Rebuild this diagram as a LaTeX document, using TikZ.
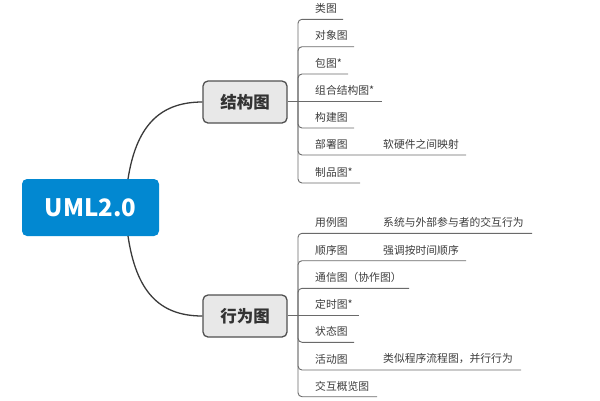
\documentclass[tikz,border=0pt]{standalone}
\usepackage{fontspec}
\setmainfont{Noto Sans CJK SC}
\definecolor{rootblue}{HTML}{0288D1}
\definecolor{boxfill}{HTML}{E8E8E8}
\definecolor{boxline}{HTML}{505050}
\definecolor{curveline}{HTML}{3A3A3A}
\definecolor{leafline}{HTML}{6A6A6A}
\definecolor{leaftext}{HTML}{3C3C3C}
\begin{document}
\begin{tikzpicture}[x=1pt,y=-1pt,
  rootbox/.style={draw=none,fill=rootblue,rounded corners=5pt,minimum width=137pt,minimum height=57pt,text=white,font=\fontsize{24}{28}\selectfont\bfseries,inner sep=0pt},
  branchbox/.style={draw=boxline,line width=1.3pt,fill=boxfill,rounded corners=5pt,minimum width=84pt,minimum height=42pt,text=black!80,font=\fontsize{16.5}{20}\selectfont\bfseries,inner sep=0pt},
  leaf/.style={anchor=west,inner sep=0pt,text=leaftext,font=\fontsize{10.8}{13}\selectfont},
  mainlink/.style={draw=curveline,line width=1.3pt},
  leaflink/.style={draw=leafline,line width=0.9pt,rounded corners=4pt}
]
\useasboundingbox (0,0) rectangle (600,400);

\node[rootbox] (root) at (90.5,207.5) {UML2.0};
\node[branchbox] (jg) at (245,102) {结构图};
\node[branchbox] (xw) at (245,316) {行为图};

\coordinate (rt) at (128,179);
\coordinate (rb) at (128,236);
\draw[mainlink] (rt) .. controls (136,128) and (158,102) .. (jg.west);
\draw[mainlink] (rb) .. controls (136,290) and (158,316) .. (xw.west);

% structure diagram branch
\coordinate (ja) at (298,101);
\draw[leaflink] (jg.east |- ja) -- (ja);
\node[leaf] (s1) at (315,8) {类图};
\node[leaf] (s2) at (315,35.5) {对象图};
\node[leaf] (s3) at (315,63) {包图*};
\node[leaf] (s4) at (315,90) {组合结构图*};
\node[leaf] (s5) at (315,117) {构建图};
\node[leaf] (s6) at (315,144.5) {部署图};
\node[leaf] (s6n) at (383,144.5) {软硬件之间映射};
\node[leaf] (s7) at (315,172) {制品图*};
\coordinate (s1e) at (343,19.3);
\coordinate (s2e) at (354,46.7);
\coordinate (s3e) at (348,74);
\coordinate (s4e) at (382,101);
\coordinate (s5e) at (354,128);
\coordinate (s6e) at (466,155);
\coordinate (s7e) at (360,183);
\foreach \e in {s1e,s2e,s3e,s5e,s6e,s7e}
  \draw[leaflink] (ja) |- (\e);
\draw[leaflink] (ja) -- (s4e);

% behaviour diagram branch
\coordinate (jb) at (298,315);
\draw[leaflink] (xw.east |- jb) -- (jb);
\node[leaf] (b1) at (315,222) {用例图};
\node[leaf] (b1n) at (383,222) {系统与外部参与者的交互行为};
\node[leaf] (b2) at (315,250) {顺序图};
\node[leaf] (b2n) at (383,250) {强调按时间顺序};
\node[leaf] (b3) at (315,277) {通信图（协作图）};
\node[leaf] (b4) at (315,304) {定时图*};
\node[leaf] (b5) at (315,331) {状态图};
\node[leaf] (b6) at (315,359) {活动图};
\node[leaf] (b6n) at (383,359) {类似程序流程图，并行行为};
\node[leaf] (b7) at (315,386) {交互概览图};
\coordinate (b1e) at (532,233.3);
\coordinate (b2e) at (466,260.7);
\coordinate (b3e) at (409,288.3);
\coordinate (b4e) at (359,315);
\coordinate (b5e) at (354,342.3);
\coordinate (b6e) at (521,370);
\coordinate (b7e) at (377,396.7);
\foreach \e in {b1e,b2e,b3e,b5e,b6e,b7e}
  \draw[leaflink] (jb) |- (\e);
\draw[leaflink] (jb) -- (b4e);
\end{tikzpicture}
\end{document}
